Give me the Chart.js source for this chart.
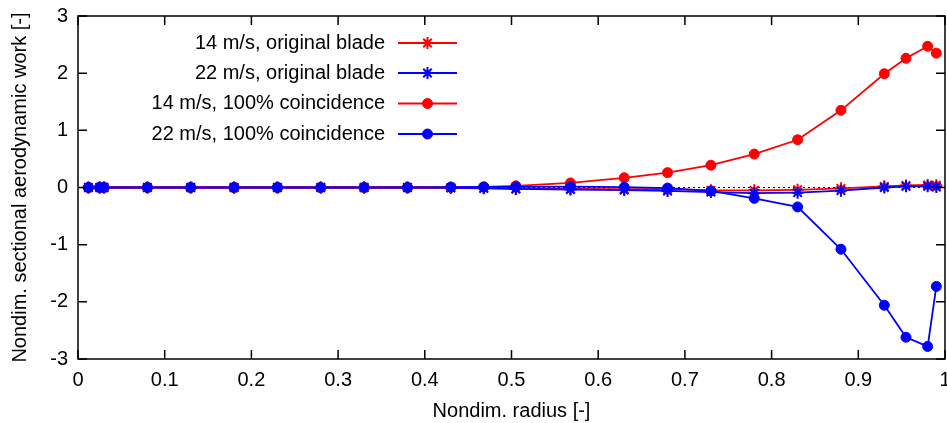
<!DOCTYPE html>
<html>
<head>
<meta charset="utf-8">
<title>Nondim. sectional aerodynamic work</title>
<script src="https://cdn.jsdelivr.net/npm/chart.js@4.4.1/dist/chart.umd.min.js"></script>
<style>
  html, body { margin: 0; padding: 0; background: #fff; }
  #plot { display: block; }
</style>
</head>
<body>
<canvas id="plot" width="947" height="423"></canvas>
<script>
// radius stations (x values)
const radius = [0.012, 0.025, 0.03, 0.08, 0.13, 0.18, 0.23, 0.28, 0.33, 0.38,
  0.43, 0.468, 0.505, 0.568, 0.63, 0.68, 0.73, 0.78, 0.83, 0.88, 0.93, 0.955, 0.98, 0.99];

const work14Original = [0, 0, 0, 0, 0, 0, 0, 0, 0, 0,
  -0.005, -0.01, -0.02, -0.025, -0.03, -0.03, -0.05, -0.05, -0.04, -0.015, 0.02, 0.035, 0.045, 0.04];
const work22Original = [0, 0, 0, 0, 0, 0, 0, 0, 0, 0,
  -0.005, -0.015, -0.025, -0.035, -0.045, -0.06, -0.08, -0.1, -0.09, -0.055, 0.0, 0.02, 0.02, 0.01];
const work14Coinc = [0, 0, 0, 0, 0, 0, 0, 0, 0, 0,
  0.005, 0.01, 0.03, 0.08, 0.17, 0.26, 0.39, 0.585, 0.835, 1.35, 1.99, 2.26, 2.47, 2.35];
const work22Coinc = [0, 0, 0, 0, 0, 0, 0, 0, 0, 0,
  0.005, 0.01, 0.01, 0.015, 0.005, -0.01, -0.06, -0.19, -0.34, -1.08, -2.06, -2.62, -2.78, -1.73];

const seriesLabels = [
  "14 m/s, original blade",
  "22 m/s, original blade",
  "14 m/s, 100% coincidence",
  "22 m/s, 100% coincidence"
];

const xTicks = [0, 0.1, 0.2, 0.3, 0.4, 0.5, 0.6, 0.7, 0.8, 0.9, 1];
const yTicks = [-3, -2, -1, 0, 1, 2, 3];

const FONT = "'Liberation Sans', Arial, sans-serif";
const RED = "#ff0000";
const BLUE = "#0000ff";

function toPoints(values) {
  return values.map((v, i) => ({ x: radius[i], y: v }));
}

function makeSet(label, values, color, style, order) {
  return {
    label: label,
    data: toPoints(values),
    borderColor: color,
    backgroundColor: color,
    borderWidth: 1.8,
    pointStyle: style,
    pointRadius: style === "star" ? 6 : 5,
    pointBorderWidth: style === "star" ? 2 : 1,
    pointBorderColor: color,
    pointBackgroundColor: color,
    tension: 0,
    order: order
  };
}

// frame, inward ticks, dotted zero axis and the in-plot key (gnuplot look)
const gnuplotFrame = {
  id: "gnuplotFrame",
  beforeDatasetsDraw(chart) {
    const { ctx, scales: { x, y } } = chart;
    const y0 = y.getPixelForValue(0);
    ctx.save();
    ctx.strokeStyle = "#000";
    ctx.lineWidth = 1;
    ctx.setLineDash([2, 3]);
    ctx.beginPath();
    ctx.moveTo(x.getPixelForValue(0), y0);
    ctx.lineTo(x.getPixelForValue(1), y0);
    ctx.stroke();
    ctx.restore();
  },
  afterDatasetsDraw(chart) {
    const { ctx, chartArea: a, scales: { x, y } } = chart;
    const tick = 9;
    ctx.save();
    ctx.strokeStyle = "#000";
    ctx.lineWidth = 1.5;
    ctx.strokeRect(a.left, a.top, a.right - a.left, a.bottom - a.top);

    ctx.beginPath();
    xTicks.forEach(v => {
      const px = x.getPixelForValue(v);
      ctx.moveTo(px, a.bottom); ctx.lineTo(px, a.bottom - tick);
      ctx.moveTo(px, a.top); ctx.lineTo(px, a.top + tick);
    });
    yTicks.forEach(v => {
      const py = y.getPixelForValue(v);
      ctx.moveTo(a.left, py); ctx.lineTo(a.left + tick, py);
      ctx.moveTo(a.right, py); ctx.lineTo(a.right - tick, py);
    });
    ctx.stroke();

    // key
    const textRight = 385;
    const lineStart = 398;
    const lineEnd = 457;
    const rowY = [43, 73, 103.5, 134];
    ctx.font = "20px " + FONT;
    ctx.textAlign = "right";
    ctx.textBaseline = "middle";
    chart.data.datasets.forEach((ds, i) => {
      const yy = rowY[i];
      ctx.fillStyle = "#000";
      ctx.fillText(ds.label, textRight, yy);
      ctx.strokeStyle = ds.borderColor;
      ctx.fillStyle = ds.backgroundColor;
      ctx.lineWidth = ds.borderWidth;
      ctx.beginPath();
      ctx.moveTo(lineStart, yy);
      ctx.lineTo(lineEnd, yy);
      ctx.stroke();
      ctx.lineWidth = ds.pointBorderWidth;
      Chart.helpers.drawPoint(ctx, {
        pointStyle: ds.pointStyle,
        radius: ds.pointRadius,
        rotation: 0,
        borderWidth: ds.pointBorderWidth
      }, (lineStart + lineEnd) / 2, yy);
    });
    ctx.restore();
  }
};

function initChart() {
  const canvas = document.getElementById("plot");
  const ctx = canvas.getContext("2d");

  Chart.defaults.font.family = FONT;
  Chart.defaults.color = "#000";

  new Chart(ctx, {
    type: "line",
    data: {
      datasets: [
        makeSet(seriesLabels[0], work14Original, RED, "star", 4),
        makeSet(seriesLabels[1], work22Original, BLUE, "star", 3),
        makeSet(seriesLabels[2], work14Coinc, RED, "circle", 2),
        makeSet(seriesLabels[3], work22Coinc, BLUE, "circle", 1)
      ]
    },
    options: {
      responsive: false,
      animation: false,
      devicePixelRatio: 1,
      layout: { autoPadding: false, padding: { left: 0, top: 16, right: 2, bottom: 0 } },
      plugins: {
        legend: { display: false },
        tooltip: { enabled: false }
      },
      scales: {
        x: {
          type: "linear",
          min: 0,
          max: 1,
          afterBuildTicks: s => { s.ticks = xTicks.map(v => ({ value: v })); },
          afterFit: s => {
            s.height = 64;
            s.paddingLeft = 0;
            s.paddingRight = 0;
          },
          grid: { display: false, drawTicks: false },
          border: { display: false },
          ticks: {
            padding: 9,
            font: { size: 20 },
            maxRotation: 0,
            autoSkip: false,
            callback: v => String(v)
          },
          title: {
            display: true,
            text: "Nondim. radius [-]",
            font: { size: 20 },
            padding: { top: 0, bottom: 0 }
          }
        },
        y: {
          min: -3,
          max: 3,
          afterBuildTicks: s => { s.ticks = yTicks.map(v => ({ value: v })); },
          afterFit: s => {
            s.width = 78;
            s.paddingTop = 0;
            s.paddingBottom = 0;
          },
          grid: { display: false, drawTicks: false },
          border: { display: false },
          ticks: {
            padding: 10,
            font: { size: 20 },
            callback: v => String(v)
          },
          title: {
            display: true,
            text: "Nondim. sectional aerodynamic work [-]",
            font: { size: 20 },
            padding: { top: 8, bottom: 0 }
          }
        }
      }
    },
    plugins: [gnuplotFrame]
  });
}

document.addEventListener("DOMContentLoaded", () => {
  initChart();
});
</script>
</body>
</html>
